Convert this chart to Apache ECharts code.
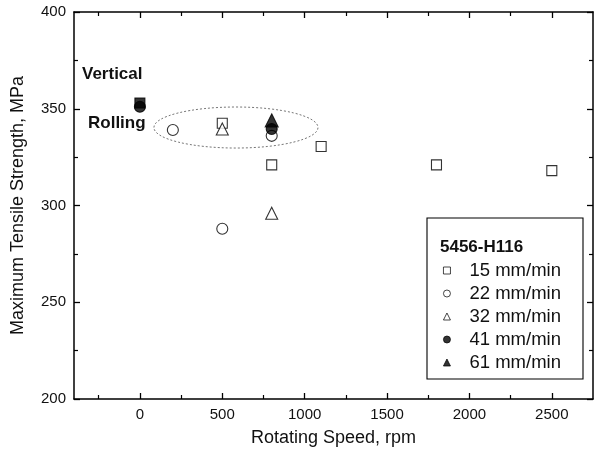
<!DOCTYPE html>
<html>
<head>
<meta charset="utf-8">
<script src="https://cdn.jsdelivr.net/npm/echarts@6/dist/echarts.min.js"></script>
<style>html,body{margin:0;padding:0;background:#fff}#c{width:595px;height:452px}</style>
</head>
<body>
<div id="c"></div>
<script>
// ---- data ----
const speed15 = [500, 800, 1100, 1800, 2500];
const mts15   = [342.5, 321, 330.5, 321, 318];
const speed22 = [200, 500, 800];
const mts22   = [339, 288, 336];
const speed32 = [500, 800];
const mts32   = [339.5, 296];
const speed41 = [0, 800];
const mts41   = [351, 339.5];
const speed61 = [800];
const mts61   = [344];
const speedVert = [0];
const mtsVert   = [353];
const seriesNames = ['15 mm/min', '22 mm/min', '32 mm/min', '41 mm/min', '61 mm/min'];
const xMajorTicks = [0, 500, 1000, 1500, 2000, 2500];
const xMinorTicks = [-250, 250, 750, 1250, 1750, 2250];
// ellipse annotation: center speed, center MPa, radius speed, radius MPa
const ellipseCenter = [583, 340.3];
const ellipseRadius = [498, 10.6];

const FONT = '"Liberation Sans", Arial, sans-serif';
const zip = (a, b) => a.map((v, i) => [v, b[i]]);

const chart = echarts.init(document.getElementById('c'), null, {renderer: 'canvas'});
const grid = {left: 74, top: 12, right: 2, bottom: 53};
const axisLine = {show: true, onZero: false, lineStyle: {color: '#000', width: 1.5}};

function scat(name, xs, ys, symbol, size, filled) {
  return {
    type: 'scatter', name: name, data: zip(xs, ys), symbol: symbol, symbolSize: size,
    itemStyle: {color: filled ? '#000' : '#fff', borderColor: '#000', borderWidth: 1.1},
    z: 5
  };
}

const option = {
  animation: false,
  backgroundColor: '#fff',
  grid: grid,
  xAxis: [
    {type: 'value', min: -400, max: 2750, position: 'bottom',
     axisLine: axisLine,
     axisTick: {show: true, inside: true, length: 6, customValues: xMajorTicks, lineStyle: {color: '#000', width: 1.3}},
     axisLabel: {show: true, customValues: xMajorTicks, margin: 8, fontSize: 15, color: '#111', fontFamily: FONT,
                 formatter: v => String(v)},
     splitLine: {show: false},
     name: 'Rotating Speed, rpm', nameLocation: 'middle', nameGap: 30,
     nameTextStyle: {fontSize: 18, color: '#111', fontFamily: FONT}},
    {type: 'value', min: -400, max: 2750, position: 'bottom',
     axisLine: {show: false, onZero: false},
     axisTick: {show: true, inside: true, length: 4, customValues: xMinorTicks, lineStyle: {color: '#000', width: 1.2}},
     axisLabel: {show: false}, splitLine: {show: false}},
    {type: 'value', min: -400, max: 2750, position: 'top',
     axisLine: axisLine,
     axisTick: {show: true, inside: true, length: 6, customValues: xMajorTicks, lineStyle: {color: '#000', width: 1.3}},
     axisLabel: {show: false}, splitLine: {show: false}},
    {type: 'value', min: -400, max: 2750, position: 'top',
     axisLine: {show: false, onZero: false},
     axisTick: {show: true, inside: true, length: 4, customValues: xMinorTicks, lineStyle: {color: '#000', width: 1.2}},
     axisLabel: {show: false}, splitLine: {show: false}}
  ],
  yAxis: [
    {type: 'value', min: 200, max: 400, interval: 50, position: 'left',
     axisLine: axisLine,
     axisTick: {show: true, inside: true, length: 6, lineStyle: {color: '#000', width: 1.3}},
     minorTick: {show: true, splitNumber: 2, length: 4, lineStyle: {color: '#000', width: 1.2}},
     axisLabel: {margin: 8, fontSize: 15, color: '#111', fontFamily: FONT},
     splitLine: {show: false},
     name: 'Maximum Tensile Strength, MPa', nameLocation: 'middle', nameGap: 47,
     nameTextStyle: {fontSize: 18, color: '#111', fontFamily: FONT}},
    {type: 'value', min: 200, max: 400, interval: 50, position: 'right',
     axisLine: axisLine,
     axisTick: {show: true, inside: true, length: 6, lineStyle: {color: '#000', width: 1.3}},
     minorTick: {show: true, splitNumber: 2, length: 4, lineStyle: {color: '#000', width: 1.2}},
     axisLabel: {show: false}, splitLine: {show: false}}
  ],
  legend: {
    orient: 'vertical', left: 438, top: 256,
    itemWidth: 7, itemHeight: 7, itemGap: 4,
    data: seriesNames,
    itemStyle: {borderWidth: 0.9},
    textStyle: {fontSize: 18.5, color: '#111', fontFamily: FONT, padding: [0, 0, 0, 14]},
    selectedMode: false
  },
  series: [
    scat(seriesNames[0], speed15, mts15, 'rect', 10, false),
    scat(seriesNames[1], speed22, mts22, 'circle', 11, false),
    scat(seriesNames[2], speed32, mts32, 'triangle', 12, false),
    scat(seriesNames[3], speed41, mts41, 'circle', 11, true),
    scat(seriesNames[4], speed61, mts61, 'triangle', 13, true),
    scat('Vertical', speedVert, mtsVert, 'rect', 10, true),
    {
      type: 'custom', name: 'ellipse', silent: true, z: 3,
      data: [[ellipseCenter[0], ellipseCenter[1], ellipseRadius[0], ellipseRadius[1]]],
      renderItem: function (params, api) {
        const c = api.coord([api.value(0), api.value(1)]);
        const e = api.coord([api.value(0) + api.value(2), api.value(1) - api.value(3)]);
        return {
          type: 'ellipse',
          shape: {cx: c[0], cy: c[1], rx: e[0] - c[0], ry: e[1] - c[1]},
          style: {fill: null, stroke: '#777', lineWidth: 1, lineDash: [2, 2]}
        };
      }
    }
  ],
  graphic: [
    {type: 'rect', shape: {x: 427, y: 218, width: 156, height: 161},
     style: {fill: '#fff', stroke: '#000', lineWidth: 1.1}, z: 1},
    {type: 'text', left: 440, top: 239, z: 10,
     style: {text: '5456-H116', fontSize: 17, fontWeight: 'bold', fill: '#111', fontFamily: FONT}},
    {type: 'text', left: 82, top: 66, z: 10,
     style: {text: 'Vertical', fontSize: 17, fontWeight: 'bold', fill: '#111', fontFamily: FONT}},
    {type: 'text', left: 88, top: 115, z: 10,
     style: {text: 'Rolling', fontSize: 17, fontWeight: 'bold', fill: '#111', fontFamily: FONT}}
  ]
};
chart.setOption(option);
</script>
</body>
</html>
